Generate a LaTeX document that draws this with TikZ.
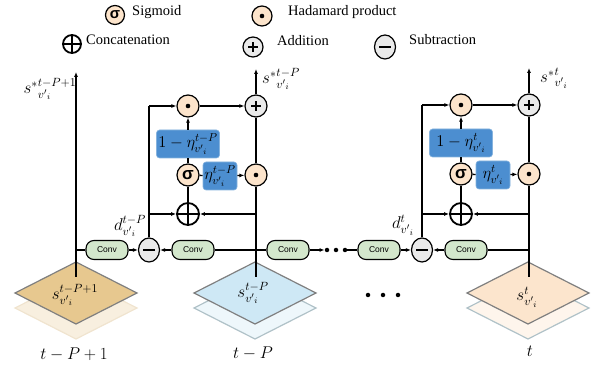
\RequirePackage{fix-cm}
\documentclass[tikz,border=0pt]{standalone}
\usepackage{fontspec}
\setmainfont{Liberation Serif}
\newfontfamily\convfont{Liberation Sans}
\usepackage{amsmath}
\usetikzlibrary{arrows.meta,shapes.geometric}

\definecolor{hadfill}{HTML}{FCE4CB}
\definecolor{opfill}{HTML}{EAEAEA}
\definecolor{gatefill}{HTML}{4C8ED0}
\definecolor{gateedge}{HTML}{86B3DE}
\definecolor{convfill}{HTML}{D3E7CC}
\definecolor{tanfill}{HTML}{E7C88F}
\definecolor{tanshade}{HTML}{F8EFDF}
\definecolor{tanedge}{HTML}{F0E4CF}
\definecolor{bluefill}{HTML}{CEE8F5}
\definecolor{blueshade}{HTML}{EEF7FB}
\definecolor{peachfill}{HTML}{FCE5CD}
\definecolor{peachshade}{HTML}{FEF5EC}
\definecolor{layeredge}{HTML}{7F7F7F}
\definecolor{shadeedge}{HTML}{B0C2C8}

\tikzset{
  wire/.style={line width=1.3pt},
  arr/.style={wire,-{Latex[length=5pt,width=4pt]}},
  op/.style={circle,draw,line width=1.2pt,minimum size=22pt,inner sep=0pt},
  had/.style={op,fill=hadfill,path picture={\fill[black] (path picture bounding box.center) circle (2.3pt);}},
  add/.style={op,fill=opfill,path picture={
      \draw[black,line width=2.2pt] ([xshift=-5pt]path picture bounding box.center) -- ([xshift=5pt]path picture bounding box.center)
        ([yshift=-5pt]path picture bounding box.center) -- ([yshift=5pt]path picture bounding box.center);}},
  sub/.style={ellipse,draw,line width=1.2pt,fill=opfill,minimum width=21pt,minimum height=24pt,inner sep=0pt,path picture={
      \draw[black,line width=2.6pt] ([xshift=-6pt]path picture bounding box.center) -- ([xshift=6pt]path picture bounding box.center);}},
  cat/.style={op,fill=white,line width=1.8pt,path picture={
      \draw[black,line width=1.8pt] (path picture bounding box.north) -- (path picture bounding box.south)
        (path picture bounding box.west) -- (path picture bounding box.east);}},
  sig/.style={op,fill=hadfill,font=\convfont\bfseries\fontsize{17}{17}\selectfont},
  gate/.style={rectangle,rounded corners=3pt,fill=gatefill,draw=gateedge,line width=0.6pt,minimum height=28pt,inner sep=1pt,font=\fontsize{16.5}{18}\selectfont},
  conv/.style={rectangle,rounded corners=8pt,draw,line width=1.1pt,fill=convfill,minimum width=42pt,minimum height=19pt,inner sep=0pt,font=\convfont\fontsize{8.5}{9}\selectfont},
  dotnode/.style={circle,fill,inner sep=0pt,minimum size=4.5pt},
  lbl/.style={inner sep=0pt,font=\fontsize{17}{19}\selectfont},
  legend/.style={anchor=west,inner sep=0pt,font=\fontsize{14.5}{16}\selectfont}
}

\begin{document}
\begin{tikzpicture}[x=1pt,y=-1pt]
\useasboundingbox (0,0) rectangle (603,366);

% legend
\node[sig,minimum size=19pt,font=\convfont\bfseries\fontsize{15}{15}\selectfont] (lsig) at (115,15) {σ};
\node[legend] (lsigtxt) at (132,12) {Sigmoid};
\node[had,minimum size=20pt] (lhad) at (262,16) {};
\node[legend] (lhadtxt) at (288,12) {Hadamard product};
\node[cat,minimum size=18pt] (lcat) at (72,44) {};
\node[legend] (lcattxt) at (86,40) {Concatenation};
\node[add,minimum size=20pt] (ladd) at (253,47) {};
\node[legend] (laddtxt) at (277,41) {Addition};
\node[sub] (lsub) at (385,47) {};
\node[legend] (lsubtxt) at (409,40) {Subtraction};

% stacked input layers
\filldraw[fill=tanshade,draw=tanedge,line width=1.2pt] (76,277) -- (137,308) -- (76,339) -- (15,308) -- cycle;
\filldraw[fill=tanfill,draw=layeredge,line width=1.2pt] (76,262) -- (137,293) -- (76,324) -- (15,293) -- cycle;
\filldraw[fill=blueshade,draw=shadeedge,line width=1.2pt] (255,277) -- (316,308) -- (255,339) -- (194,308) -- cycle;
\filldraw[fill=bluefill,draw=layeredge,line width=1.2pt] (255,262) -- (316,293) -- (255,324) -- (194,293) -- cycle;
\filldraw[fill=peachshade,draw=shadeedge,line width=1.2pt] (528,277) -- (589,308) -- (528,339) -- (467,308) -- cycle;
\filldraw[fill=peachfill,draw=layeredge,line width=1.2pt] (528,262) -- (589,293) -- (528,324) -- (467,293) -- cycle;

\node[lbl] (in0) at (75,295) {$s^{t-P+1}_{{v'}_i}$};
\node[lbl] (in1) at (253,293) {$s^{t-P}_{{v'}_i}$};
\node[lbl] (in2) at (527,297) {$s^{t}_{{v'}_i}$};
\node[lbl] (time0) at (74,354) {$t-P+1$};
\node[lbl] (time1) at (253,353) {$t-P$};
\node[lbl] (time2) at (530,351) {$t$};
\node[dotnode] (gap1) at (368,295) {};
\node[dotnode] (gap2) at (383,295) {};
\node[dotnode] (gap3) at (398,295) {};

% step t-P+1
\coordinate (base0) at (76,277);
\coordinate (j0) at (76,250);
\coordinate (top0) at (76,72);
\node[lbl] (out0) at (50,89) {${s^{*}}^{t-P+1}_{{v'}_i}$};

% step t-P
\node[conv] (conv1) at (107,250) {Conv};
\node[sub] (sub1) at (149,250) {};
\node[conv] (conv2) at (193,250) {Conv};
\node[lbl] (diff1) at (130,226) {$d^{t-P}_{{v'}_i}$};
\coordinate (base1) at (256,277);
\coordinate (j1) at (256,250);
\coordinate (catr1) at (256,214);
\coordinate (catl1) at (149,214);
\coordinate (corner1) at (149,106);
\coordinate (top1) at (256,69);
\node[had] (hadt1) at (188,106) {};
\node[add] (add1) at (256,106) {};
\node[gate,minimum width=63pt] (omg1) at (188,144) {$1-\eta^{t-P}_{{v'}_i}$};
\node[sig] (sig1) at (188,175) {σ};
\node[gate,minimum width=34pt] (eta1) at (220,176) {$\eta^{t-P}_{{v'}_i}$};
\node[had] (hadr1) at (256,175) {};
\node[cat] (cat1) at (188,214) {};
\node[lbl] (out1) at (281,79) {${s^{*}}^{t-P}_{{v'}_i}$};

% between the steps
\node[conv] (conv3) at (288,250) {Conv};
\node[dotnode] (run1) at (327,250) {};
\node[dotnode] (run2) at (336,250) {};
\node[dotnode] (run3) at (345,250) {};
\node[conv] (conv4) at (379,250) {Conv};

% step t
\node[sub] (sub2) at (422,250) {};
\node[conv] (conv5) at (466,250) {Conv};
\node[lbl] (diff2) at (403,225) {$d^{t}_{{v'}_i}$};
\coordinate (base2) at (529,277);
\coordinate (j2) at (529,250);
\coordinate (catr2) at (529,214);
\coordinate (catl2) at (422,214);
\coordinate (corner2) at (422,105);
\coordinate (top2) at (529,68);
\node[had] (hadt2) at (461,105) {};
\node[add] (add2) at (529,105) {};
\node[gate,minimum width=63pt] (omg2) at (461,143) {$1-\eta^{t}_{{v'}_i}$};
\node[sig] (sig2) at (461,174) {σ};
\node[gate,minimum width=34pt] (eta2) at (493,175) {$\eta^{t}_{{v'}_i}$};
\node[had] (hadr2) at (529,174) {};
\node[cat] (cat2) at (461,214) {};
\node[lbl] (out2) at (554,78) {${s^{*}}^{t}_{{v'}_i}$};

% wires
\draw[wire] (base0) -- (j0);
\draw[arr] (j0) -- (top0);
\draw[wire] (j0) -- (conv1);
\draw[arr] (conv1) -- (sub1);
\draw[arr] (conv2) -- (sub1);
\draw[wire] (conv2) -- (conv3);
\draw[wire] (base1) -- (j1) -- (catr1) -- (hadr1);
\draw[wire] (hadr1) -- (add1);
\draw[arr] (add1) -- (top1);
\draw[wire] (sub1) -- (catl1) -- (corner1);
\draw[arr] (corner1) -- (hadt1);
\draw[arr] (catl1) -- (cat1);
\draw[arr] (catr1) -- (cat1);
\draw[wire] (cat1) -- (sig1);
\draw[wire] (sig1) -- (omg1);
\draw[arr] (omg1) -- (hadt1);
\draw[wire] (sig1) -- (eta1);
\draw[arr] (eta1) -- (hadr1);
\draw[arr] (hadt1) -- (add1);

\draw[arr] (conv3) -- (run1);
\draw[wire] (run3) -- (conv4);
\draw[arr] (conv4) -- (sub2);

\draw[arr] (conv5) -- (sub2);
\draw[wire] (conv5) -- (j2);
\draw[wire] (base2) -- (j2) -- (catr2) -- (hadr2);
\draw[wire] (hadr2) -- (add2);
\draw[arr] (add2) -- (top2);
\draw[wire] (sub2) -- (catl2) -- (corner2);
\draw[arr] (corner2) -- (hadt2);
\draw[arr] (catl2) -- (cat2);
\draw[arr] (catr2) -- (cat2);
\draw[wire] (cat2) -- (sig2);
\draw[wire] (sig2) -- (omg2);
\draw[arr] (omg2) -- (hadt2);
\draw[wire] (sig2) -- (eta2);
\draw[arr] (eta2) -- (hadr2);
\draw[arr] (hadt2) -- (add2);
\end{tikzpicture}
\end{document}
